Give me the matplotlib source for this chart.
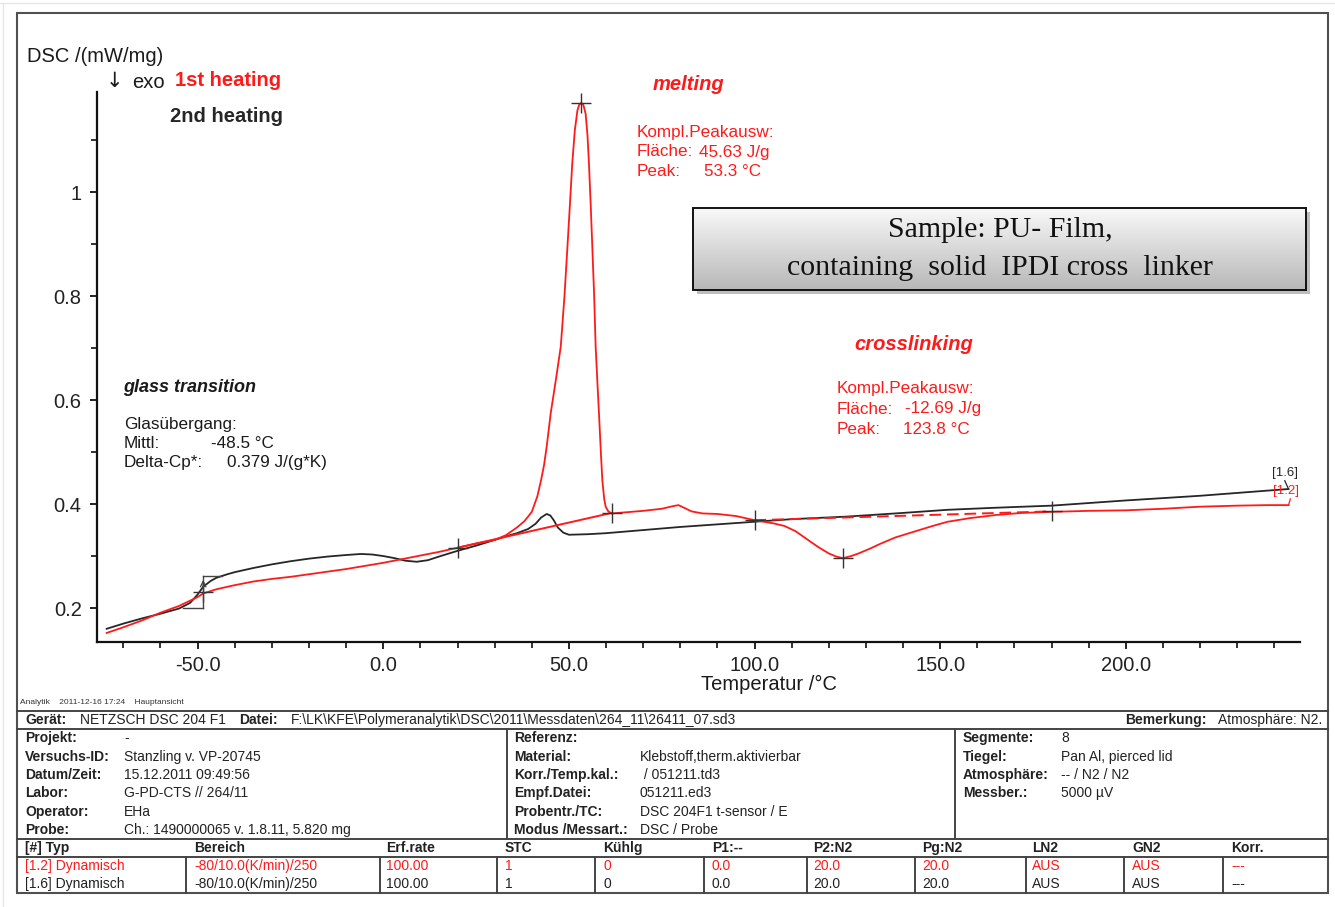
import numpy as np
import matplotlib
matplotlib.use('Agg')
import matplotlib.pyplot as plt
from matplotlib.patches import Rectangle
from matplotlib.ticker import MultipleLocator, FixedLocator

plt.rcParams['font.family'] = ['Liberation Sans', 'DejaVu Sans']

# ---------------- data ----------------
temp_1st = [-74.5, -70, -65, -60, -55, -50, -48.5, -45, -40, -35, -30, -25, -20, -15, -10, -5, 0,
            5, 10, 15, 20, 25, 30, 33, 36, 38, 40, 41.5, 42.5, 43.3, 44, 45.1, 46.5, 47.8, 48.8,
            49.6, 50.3, 50.9, 51.6, 52.3, 52.8, 53.3, 53.9, 54.5, 55.0, 55.4, 55.9, 56.3, 56.8,
            57.2, 57.7, 58.1, 58.6, 59.0, 59.5, 59.9, 60.6, 61.5, 65, 70, 75, 78, 79.5, 81, 83,
            86, 90, 95, 100, 105, 108, 111, 114, 117, 120, 122, 123.8, 126, 128, 131, 134, 138,
            143, 148, 152, 158, 165, 172, 180, 190, 200, 210, 220, 230, 238, 243.8]
dsc_1st = [0.152, 0.163, 0.176, 0.191, 0.204, 0.221, 0.228, 0.236, 0.244, 0.251, 0.256, 0.260,
           0.265, 0.270, 0.275, 0.281, 0.287, 0.294, 0.301, 0.308, 0.316, 0.324, 0.331, 0.340,
           0.355, 0.367, 0.385, 0.415, 0.446, 0.475, 0.51, 0.575, 0.64, 0.703, 0.80, 0.895,
           0.98, 1.056, 1.12, 1.158, 1.169, 1.172, 1.168, 1.151, 1.11, 1.055, 0.97, 0.895, 0.80,
           0.703, 0.63, 0.574, 0.50, 0.446, 0.41, 0.395, 0.386, 0.382, 0.384, 0.387, 0.391,
           0.396, 0.398, 0.393, 0.386, 0.382, 0.381, 0.377, 0.369, 0.363, 0.358, 0.348, 0.333,
           0.318, 0.305, 0.299, 0.296, 0.300, 0.305, 0.314, 0.324, 0.336, 0.347, 0.358, 0.366,
           0.373, 0.379, 0.383, 0.385, 0.387, 0.388, 0.391, 0.395, 0.397, 0.398, 0.398]

temp_2nd = [-74.5, -70, -65, -60, -55, -52, -50, -48.5, -46.5, -45, -42, -40, -35, -30, -25, -20,
            -15, -10, -6, -3, 0, 3, 6, 9, 12, 15, 20, 25, 30, 33, 36, 39, 41, 42.5, 44, 45, 46,
            47, 48.5, 50, 55, 60, 70, 80, 90, 100, 110, 125, 140, 152, 165, 180, 200, 220, 243.8]
dsc_2nd = [0.160, 0.170, 0.180, 0.189, 0.199, 0.210, 0.226, 0.241, 0.252, 0.258, 0.265, 0.269,
           0.277, 0.284, 0.290, 0.295, 0.299, 0.302, 0.304, 0.303, 0.300, 0.296, 0.291, 0.289,
           0.292, 0.299, 0.310, 0.320, 0.331, 0.338, 0.344, 0.352, 0.362, 0.374, 0.381, 0.378,
           0.368, 0.355, 0.345, 0.341, 0.342, 0.344, 0.350, 0.356, 0.361, 0.366, 0.371, 0.376,
           0.383, 0.389, 0.393, 0.397, 0.407, 0.416, 0.429]

# evaluation points (peak integration limits, peaks, glass transition midpoint)
melt_base_T = [20.0, 61.5]
melt_base_v = [0.316, 0.383]
xlink_base_T = [100.0, 180.0]
xlink_base_v = [0.369, 0.386]
mark_T = [20.0, 53.3, 61.5, 100.0, 123.8, 180.0, -48.5]
mark_v = [0.316, 1.172, 0.383, 0.369, 0.296, 0.386, 0.231]
tg_mid = -48.5
tg_low, tg_high = 0.2006, 0.2615

xticks = [-50, 0, 50, 100, 150, 200]
xtick_labels = ['-50.0', '0.0', '50.0', '100.0', '150.0', '200.0']
yticks = [0.2, 0.4, 0.6, 0.8, 1.0]
ytick_labels = ['0.2', '0.4', '0.6', '0.8', '1']

info_left = [("Projekt:", "-"), ("Versuchs-ID:", "Stanzling v. VP-20745"),
             ("Datum/Zeit:", "15.12.2011 09:49:56"), ("Labor:", "G-PD-CTS // 264/11"),
             ("Operator:", "EHa"), ("Probe:", "Ch.: 1490000065 v. 1.8.11, 5.820 mg")]
info_mid = [("Referenz:", ""), ("Material:", "Klebstoff,therm.aktivierbar"),
            ("Korr./Temp.kal.:", " / 051211.td3"), ("Empf.Datei:", "051211.ed3"),
            ("Probentr./TC:", "DSC 204F1 t-sensor / E"), ("Modus /Messart.:", "DSC / Probe")]
info_right = [("Segmente:", "8"), ("Tiegel:", "Pan Al, pierced lid"),
              ("Atmosphäre:", "-- / N2 / N2"), ("Messber.:", "5000 µV")]
seg_header = ["[#] Typ", "Bereich", "Erf.rate", "STC", "Kühlg", "P1:--", "P2:N2", "Pg:N2",
              "LN2", "GN2", "Korr."]
seg_row_1 = ["[1.2] Dynamisch", "-80/10.0(K/min)/250", "100.00", "1", "0", "0.0", "20.0",
             "20.0", "AUS", "AUS", "---"]
seg_row_2 = ["[1.6] Dynamisch", "-80/10.0(K/min)/250", "100.00", "1", "0", "0.0", "20.0",
             "20.0", "AUS", "AUS", "---"]

RED = '#ff1a1a'
BLK = '#262626'

# ---------------- figure ----------------
W, H = 1335, 907
fig = plt.figure(figsize=(W / 100, H / 100), dpi=100)


def fx(px):
    return px / W


def fy(py):
    return 1 - py / H


ax = fig.add_axes([fx(97), fy(642), fx(1300) - fx(97), fy(92) - fy(642)])
ax.set_xlim(-77.1, 246.9)
ax.set_ylim(0.1346, 1.193)
for s in ['top', 'right']:
    ax.spines[s].set_visible(False)
for s in ['left', 'bottom']:
    ax.spines[s].set_linewidth(1.6)
    ax.spines[s].set_color('#111111')

ax.plot(temp_2nd, dsc_2nd, color=BLK, lw=1.3, zorder=3)
ax.plot(temp_1st, dsc_1st, color=RED, lw=1.3, zorder=4)
ax.plot(melt_base_T, melt_base_v, color=RED, lw=1.4, zorder=4)
ax.plot(xlink_base_T, xlink_base_v, color=RED, lw=1.4, ls=(0, (6, 3)), zorder=4)
ax.plot(mark_T, mark_v, ls='none', marker='+', ms=14, mew=1.0, color='#333333', zorder=5)

# glass transition construction
ax.plot([tg_mid, tg_mid], [tg_low, tg_high], color='#444444', lw=1.0, zorder=5)
ax.plot([tg_mid, tg_mid + 5.2], [tg_high, tg_high], color='#444444', lw=1.0, zorder=5)
ax.plot([tg_mid - 5.4, tg_mid], [tg_low, tg_low], color='#444444', lw=1.0, zorder=5)
ax.annotate('', xy=(tg_mid, tg_high - 0.002), xytext=(tg_mid, tg_high - 0.03),
            arrowprops=dict(arrowstyle='->', color='#444444', lw=0.9), zorder=5)

# curve end leaders
ax.plot([temp_2nd[-1], temp_2nd[-1] - 1.0], [dsc_2nd[-1], dsc_2nd[-1] + 0.016], color=BLK, lw=0.9)
ax.plot([temp_1st[-1], temp_1st[-1] + 0.5], [dsc_1st[-1], dsc_1st[-1] + 0.012], color=RED, lw=0.9)

ax.xaxis.set_major_locator(FixedLocator(xticks))
ax.set_xticklabels(xtick_labels)
ax.xaxis.set_minor_locator(MultipleLocator(10))
ax.yaxis.set_major_locator(FixedLocator(yticks))
ax.set_yticklabels(ytick_labels)
ax.yaxis.set_minor_locator(MultipleLocator(0.1))
ax.tick_params(which='major', direction='out', length=5, width=1.3, labelsize=14.5,
               colors='#111111', labelcolor='#222222')
ax.tick_params(which='minor', direction='out', length=4, width=1.2, colors='#111111')
ax.tick_params(axis='x', pad=5)
ax.tick_params(axis='y', pad=6)
ax.patch.set_alpha(0)

# ---------------- overlay in pixel coordinates ----------------
ov = fig.add_axes([0, 0, 1, 1], zorder=10)
ov.patch.set_alpha(0)
ov.set_xlim(0, W)
ov.set_ylim(H, 0)
ov.axis('off')


def T(x, y, s, **kw):
    kw.setdefault('va', 'center')
    kw.setdefault('ha', 'left')
    ov.text(x, y, s, **kw)


# page edge and frame
ov.plot([0, W], [3, 3], color='#e6e6e6', lw=1.0)
ov.plot([3, 3], [3, H], color='#e6e6e6', lw=1.0)
ov.add_patch(Rectangle((17, 13), 1311, 880, fill=False, ec='#505050', lw=1.5))

# axis annotations
T(27, 57, 'DSC /(mW/mg)', fontsize=14.5, color='#1a1a1a')
T(106, 81, '↓', fontsize=15, color='#1a1a1a', family='DejaVu Sans')
T(132, 82, 'exo', fontsize=14.5, color='#1a1a1a')
T(175, 80, '1st heating', fontsize=14.5, color=RED, fontweight='bold')
T(170, 116, '2nd heating', fontsize=14.5, color=BLK, fontweight='bold')
T(769, 684, 'Temperatur /°C', fontsize=14.5, color='#1a1a1a', ha='center')

# melting
T(688, 84, 'melting', fontsize=14.5, color=RED, fontweight='bold', style='italic', ha='center')
T(637, 132, 'Kompl.Peakausw:', fontsize=12.3, color=RED)
T(637, 152, 'Fläche:', fontsize=12.3, color=RED)
T(699, 152, '45.63 J/g', fontsize=12.3, color=RED)
T(637, 172, 'Peak:', fontsize=12.3, color=RED)
T(704, 172, '53.3 °C', fontsize=12.3, color=RED)

# crosslinking
T(914, 344, 'crosslinking', fontsize=14.5, color=RED, fontweight='bold', style='italic', ha='center')
T(837, 389, 'Kompl.Peakausw:', fontsize=12.3, color=RED)
T(837, 409, 'Fläche:', fontsize=12.3, color=RED)
T(905, 409, '-12.69 J/g', fontsize=12.3, color=RED)
T(837, 429, 'Peak:', fontsize=12.3, color=RED)
T(903, 429, '123.8 °C', fontsize=12.3, color=RED)

# glass transition
T(123, 387, 'glass transition', fontsize=13, color='#1a1a1a', fontweight='bold', style='italic')
T(124, 424, 'Glasübergang:', fontsize=12.3, color='#1a1a1a')
T(124, 443, 'Mittl:', fontsize=12.3, color='#1a1a1a')
T(211, 443, '-48.5 °C', fontsize=12.3, color='#1a1a1a')
T(124, 463, 'Delta-Cp*:', fontsize=12.3, color='#1a1a1a')
T(227, 463, '0.379 J/(g*K)', fontsize=12.3, color='#1a1a1a')

# curve labels
T(1285, 473, '[1.6]', fontsize=9.5, color=BLK, ha='center')
T(1286, 491, '[1.2]', fontsize=9.5, color=RED, ha='center')

# sample box
ov.add_patch(Rectangle((697, 212), 613, 82, fc='#8a8a8a', ec='none', alpha=0.55))
grad = np.linspace(0.975, 0.72, 120)[:, None, None] * np.ones((1, 2, 3))
ov.imshow(grad, extent=(693, 1306, 290, 208), aspect='auto', interpolation='bilinear', zorder=2)
ov.add_patch(Rectangle((693, 208), 613, 82, fill=False, ec='#111111', lw=1.4, zorder=3))
T(1000, 230, 'Sample: PU- Film,', fontsize=21.5, family='Liberation Serif', ha='center', color='#111111', zorder=4)
T(1000, 268, 'containing  solid  IPDI cross  linker', fontsize=21.5, family='Liberation Serif', ha='center', color='#111111', zorder=4)
ov.set_xlim(0, W)
ov.set_ylim(H, 0)

# ---------------- info table ----------------
TXT = '#222222'
FS = 10
T(20, 703, 'Analytik    2011-12-16 17:24    Hauptansicht', fontsize=6, color='#333333')
LC = '#444444'
LW = 1.4
for yy in [711, 729, 839, 857]:
    ov.plot([17, 1328], [yy, yy], color=LC, lw=LW)
for xx in [507, 955]:
    ov.plot([xx, xx], [729, 839], color=LC, lw=LW)
for xx in [186, 380, 497, 595, 704, 807, 915, 1026, 1124, 1223]:
    ov.plot([xx, xx], [857, 893], color=LC, lw=LW)

T(25, 720, 'Gerät:', fontsize=FS, fontweight='bold', color=TXT)
T(80, 720, 'NETZSCH DSC 204 F1', fontsize=FS, color=TXT)
T(239, 720, 'Datei:', fontsize=FS, fontweight='bold', color=TXT)
T(291, 720, r'F:\LK\KFE\Polymeranalytik\DSC\2011\Messdaten\264_11\26411_07.sd3', fontsize=FS, color=TXT)
T(1125, 720, 'Bemerkung:', fontsize=FS, fontweight='bold', color=TXT)
T(1218, 720, 'Atmosphäre: N2.', fontsize=FS, color=TXT)

rows_y = [738, 757, 775, 793, 812, 830]
for (lab, val), yy in zip(info_left, rows_y):
    T(25, yy, lab, fontsize=FS, fontweight='bold', color=TXT)
    T(124, yy, val, fontsize=FS, color=TXT)
for (lab, val), yy in zip(info_mid, rows_y):
    T(514, yy, lab, fontsize=FS, fontweight='bold', color=TXT)
    T(640, yy, val, fontsize=FS, color=TXT)
for (lab, val), yy in zip(info_right, rows_y):
    T(963, yy, lab, fontsize=FS, fontweight='bold', color=TXT)
    T(1061, yy, val, fontsize=FS, color=TXT)

col_x = [25, 194, 386, 505, 603, 712, 813, 922, 1032, 1132, 1231]
for xx, s in zip(col_x, seg_header):
    T(xx, 848, s, fontsize=FS, fontweight='bold', color=TXT)
for xx, s in zip(col_x, seg_row_1):
    T(xx, 866, s, fontsize=FS, color=RED)
for xx, s in zip(col_x, seg_row_2):
    T(xx, 884, s, fontsize=FS, color=TXT)

fig.savefig('out.png', dpi=100, facecolor='white')
